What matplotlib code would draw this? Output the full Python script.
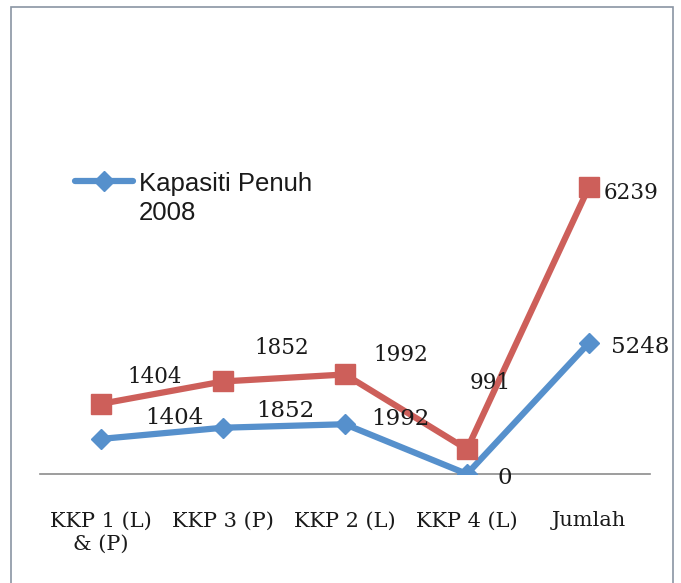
import matplotlib.pyplot as plt
from matplotlib.lines import Line2D
from matplotlib.patches import Rectangle
import numpy as np

# Data (stacked line chart)
categories = ['KKP 1 (L)\n& (P)', 'KKP 3 (P)', 'KKP 2 (L)', 'KKP 4 (L)', 'Jumlah']
kapasiti_2008 = [1404, 1852, 1992, 0, 5248]
series2 = [1404, 1852, 1992, 991, 6239]
legend_label = 'Kapasiti Penuh\n2008'

blue = '#5690cc'
red = '#cd5f5a'
serif = 'DejaVu Serif'

fig = plt.figure(figsize=(6.81, 5.83), dpi=100)
ax = fig.add_axes([40 / 681, 109 / 583, 610 / 681, 0.6])

x = np.arange(len(categories))
stacked = np.array(kapasiti_2008) + np.array(series2)

ax.plot(x, kapasiti_2008, color=blue, lw=4.5, marker='D', ms=10.5,
        solid_capstyle='round', zorder=3)
ax.plot(x, stacked, color=red, lw=4.5, marker='s', ms=15,
        solid_capstyle='round', zorder=3)

# data labels (offsets in points)
blue_off = [(53, 15), (45, 12), (40, 4), (27, -3), (37, -3)]
red_off = [(39, 19), (42, 24), (40, 14), (17, 48), (30, -4)]
for i in range(len(categories)):
    ax.annotate(str(kapasiti_2008[i]), (x[i], kapasiti_2008[i]),
                xytext=blue_off[i], textcoords='offset points',
                ha='center', va='center', fontsize=16.5, family=serif,
                color='#1a1a1a')
    ax.annotate(str(series2[i]), (x[i], stacked[i]),
                xytext=red_off[i], textcoords='offset points',
                ha='center', va='center', fontsize=15.5, family=serif,
                color='#1a1a1a')

ax.set_xlim(-0.5, 4.5)
ax.set_ylim(0, 14000)
ax.set_xticks(x)
ax.set_xticklabels(categories, fontsize=15, family=serif, color='#1a1a1a',
                   linespacing=1.3, va='top')
ax.tick_params(axis='x', length=0, pad=27)
ax.set_yticks([])
for s in ['left', 'right', 'top']:
    ax.spines[s].set_visible(False)
ax.spines['bottom'].set_color('#8c8c8c')
ax.spines['bottom'].set_linewidth(1.2)
ax.patch.set_alpha(0)

# legend (only the first series is shown in the original)
fig.add_artist(Line2D([75 / 681, 133 / 681], [1 - 181 / 583, 1 - 181 / 583],
                      color=blue, lw=4.5, solid_capstyle='round'))
fig.add_artist(Line2D([104 / 681], [1 - 181 / 583], color=blue,
                      marker='D', ms=10.5, lw=0))
fig.text(139 / 681, 1 - 172 / 583, legend_label, fontsize=18.5,
         family='Liberation Sans', va='top', ha='left', color='#1a1a1a',
         linespacing=1.25)

# chart area border
fig.add_artist(Rectangle((11 / 681, -0.05), 662 / 681, 1.05 - 7 / 583,
                         transform=fig.transFigure, fill=False,
                         edgecolor='#8a95a3', lw=1.2))

plt.savefig('out.png', dpi=100)
